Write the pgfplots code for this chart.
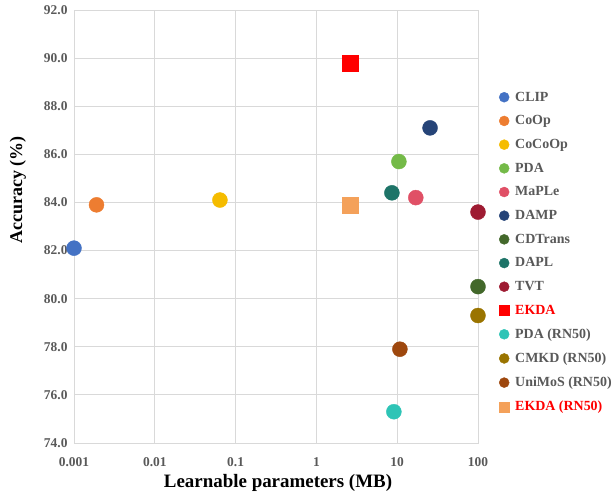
\documentclass[border=0pt]{standalone}
\usepackage{fontspec}
\setmainfont{Liberation Serif}
\usepackage{pgfplots}
\pgfplotsset{compat=1.18}
\definecolor{gridgray}{HTML}{D9D9D9}
\definecolor{tickgray}{HTML}{595959}
\definecolor{cclip}{HTML}{4472C4}
\definecolor{ccoop}{HTML}{ED7D31}
\definecolor{ccocoop}{HTML}{F5BC00}
\definecolor{cpda}{HTML}{74BA48}
\definecolor{cmaple}{HTML}{E05066}
\definecolor{cdamp}{HTML}{264478}
\definecolor{ccdtrans}{HTML}{43682B}
\definecolor{cdapl}{HTML}{1E7468}
\definecolor{ctvt}{HTML}{9E1B32}
\definecolor{cekda}{HTML}{FF0000}
\definecolor{cpdarn}{HTML}{2EC4B6}
\definecolor{ccmkd}{HTML}{9A7400}
\definecolor{cunimos}{HTML}{9E480E}
\definecolor{cekdarn}{HTML}{F4A15A}
\begin{document}
\begin{tikzpicture}
\begin{axis}[
  scale only axis, width=404bp, height=433bp,
  xmode=log, log basis x=10, xmin=0.001, xmax=100, ymin=74, ymax=92,
  xtick={0.001,0.01,0.1,1,10,100},
  xticklabels={0.001,0.01,0.1,1,10,100},
  ytick={74,76,78,80,82,84,86,88,90,92},
  yticklabels={74.0,76.0,78.0,80.0,82.0,84.0,86.0,88.0,90.0,92.0},
  minor xtick={}, 
  xmajorgrids, ymajorgrids,
  grid style={draw=gridgray, line width=0.8bp},
  axis line style={draw=gridgray, line width=0.8bp},
  major tick length=0pt, tick style={draw=none},
  ticklabel style={font=\fontsize{13.5}{15}\selectfont\bfseries, text=tickgray},
  xticklabel style={yshift=-11bp},
  yticklabel style={xshift=-3bp},
  xlabel={Learnable parameters (MB)},
  ylabel={Accuracy (\%)},
  every axis x label/.style={at={(axis description cs:0.505,-0.092)}, anchor=center, font=\fontsize{19}{21}\selectfont\bfseries},
  every axis y label/.style={at={(axis description cs:-0.139,0.585)}, anchor=center, rotate=90, font=\fontsize{18}{20}\selectfont\bfseries},
  legend style={at={(axis description cs:1.052,0.816)}, anchor=north west, draw=none, fill=none,
    font=\fontsize{14}{16}\selectfont\bfseries, text=tickgray, row sep=9bp, inner sep=0pt,
    /tikz/every odd column/.append style={column sep=4bp}},
  legend cell align=left,
  legend image code/.code={\draw[#1, mark size=5bp] plot coordinates {(0.17cm,0cm)};},
  every axis plot/.append style={only marks, mark size=7.5bp},
]
\addplot[mark=*, color=cclip] coordinates {(0.001,82.1)};
\addlegendentry{CLIP}
\addplot[mark=*, color=ccoop] coordinates {(0.0019,83.9)};
\addlegendentry{CoOp}
\addplot[mark=*, color=ccocoop] coordinates {(0.064,84.1)};
\addlegendentry{CoCoOp}
\addplot[mark=*, color=cpda] coordinates {(10.5,85.7)};
\addlegendentry{PDA}
\addplot[mark=*, color=cmaple] coordinates {(17,84.2)};
\addlegendentry{MaPLe}
\addplot[mark=*, color=cdamp] coordinates {(25.5,87.1)};
\addlegendentry{DAMP}
\addplot[mark=*, color=ccdtrans] coordinates {(100,80.5)};
\addlegendentry{CDTrans}
\addplot[mark=*, color=cdapl] coordinates {(8.6,84.4)};
\addlegendentry{DAPL}
\addplot[mark=*, color=ctvt] coordinates {(100,83.6)};
\addlegendentry{TVT}
\addplot[mark=square*, color=cekda, mark size=8bp] coordinates {(2.6,89.8)};
\addlegendentry{\textcolor{cekda}{EKDA}}
\addplot[mark=*, color=cpdarn] coordinates {(9.1,75.3)};
\addlegendentry{PDA (RN50)}
\addplot[mark=*, color=ccmkd] coordinates {(100,79.3)};
\addlegendentry{CMKD (RN50)}
\addplot[mark=*, color=cunimos] coordinates {(10.8,77.9)};
\addlegendentry{UniMoS (RN50)}
\addplot[mark=square*, color=cekdarn, mark size=8bp] coordinates {(2.6,83.9)};
\addlegendentry{\textcolor{cekda}{EKDA (RN50)}}
\end{axis}
\pgfresetboundingbox
\useasboundingbox (-74bp,-53bp) rectangle (539bp,443bp);
\end{tikzpicture}
\end{document}
